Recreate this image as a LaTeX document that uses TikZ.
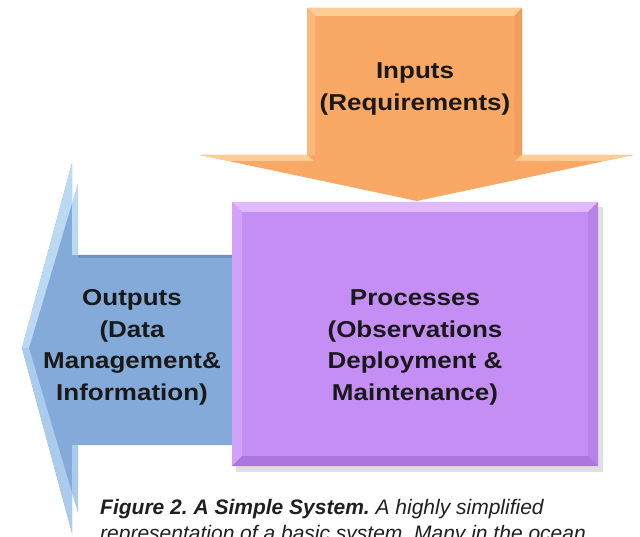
\documentclass[tikz,border=0pt]{standalone}
\usepackage{fontspec}
\setmainfont{Liberation Sans}
\newfontfamily\boxfont[FakeStretch=1.13]{Liberation Sans}
\definecolor{orA}{RGB}{249,168,102}
\definecolor{orL}{RGB}{252,206,150}
\definecolor{orD}{RGB}{238,150,85}
\definecolor{puA}{RGB}{196,142,245}
\definecolor{puL}{RGB}{224,186,251}
\definecolor{puD}{RGB}{172,118,222}
\definecolor{blA}{RGB}{132,170,218}
\definecolor{blL}{RGB}{188,217,244}
\definecolor{blD}{RGB}{108,146,196}
\frenchspacing
\begin{document}
\begin{tikzpicture}[x=1pt,y=-1pt,
  boxtext/.style={font=\boxfont\bfseries\fontsize{23}{31.5}\selectfont, align=center, inner sep=0pt, anchor=north, text=black!90},
  captext/.style={font=\fontsize{21}{26}\selectfont\itshape, align=left, inner sep=0pt, anchor=north west, text=black!88}]
\useasboundingbox (0,0) rectangle (640,537);
\clip (0,0) rectangle (640,537);
% blue output arrow
\fill[blA] (232,255) -- (72,255) -- (72,163) -- (22,348) -- (72,533) -- (72,445) -- (232,445) -- cycle;
\fill[blL] (72,163) -- (22,348) -- (29,348) -- (78,183) -- (78,255) -- (72,255) -- cycle;
\fill[blL!70!blA] (72,533) -- (22,348) -- (29,348) -- (78,513) -- (78,445) -- (72,445) -- cycle;
\fill[blD] (78,255) rectangle (232,258);
% purple process box
\fill[black,opacity=0.12] (236,207) rectangle (603,472);
\fill[puA] (232,202) rectangle (598,466);
\fill[puL] (232,202) -- (598,202) -- (588,212) -- (242,212) -- cycle;
\fill[puL!45!puA] (232,202) -- (242,212) -- (242,456) -- (232,466) -- cycle;
\fill[puD!55!puA] (598,202) -- (588,212) -- (588,456) -- (598,466) -- cycle;
\fill[puD] (232,466) -- (242,456) -- (588,456) -- (598,466) -- cycle;
% orange input arrow
\fill[orA] (307,8) -- (522,8) -- (522,155) -- (633,155) -- (417,201) -- (200,155) -- (307,155) -- cycle;
\fill[orL] (307,8) -- (522,8) -- (514,16) -- (315,16) -- cycle;
\fill[orL!45!orA] (307,8) -- (315,16) -- (315,155) -- (307,155) -- cycle;
\fill[orD!60!orA] (522,8) -- (514,16) -- (514,155) -- (522,155) -- cycle;
\fill[orL] (200,155) -- (307,155) -- (314,161) -- (229,161) -- cycle;
\fill[orL] (633,155) -- (522,155) -- (515,161) -- (604,161) -- cycle;
% texts
\node[boxtext] (inputs) at (415,62.5) {Inputs\\(Requirements)};
\node[boxtext] (processes) at (415,289.5) {Processes\\(Observations\\Deployment \&\\Maintenance)};
\node[boxtext] (outputs) at (132,289.5) {Outputs\\(Data\\Management\&\\Information)};
\node[captext] (caption) at (100,499.5) {\textbf{Figure 2. A Simple System.} A highly simplified\\representation of a basic system. Many in the ocean};
\end{tikzpicture}
\end{document}
